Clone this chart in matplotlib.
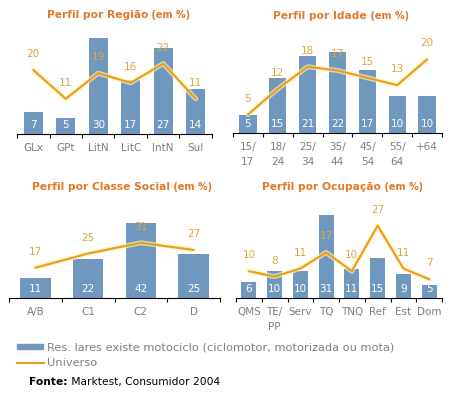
import matplotlib
matplotlib.use('Agg')
import matplotlib.pyplot as plt
import matplotlib.patheffects as pe
from matplotlib.patches import Rectangle

# dados
regiao_cat = ['GLx', 'GPt', 'LitN', 'LitC', 'IntN', 'Sul']
regiao_res = [7, 5, 30, 17, 27, 14]
regiao_uni = [20, 11, 19, 16, 22, 11]

idade_cat = ['15/\n17', '18/\n24', '25/\n34', '35/\n44', '45/\n54', '55/\n64', '+64']
idade_res = [5, 15, 21, 22, 17, 10, 10]
idade_uni = [5, 12, 18, 17, 15, 13, 20]

classe_cat = ['A/B', 'C1', 'C2', 'D']
classe_res = [11, 22, 42, 25]
classe_uni = [17, 25, 31, 27]

ocup_cat = ['QMS', 'TE/\nPP', 'Serv', 'TQ', 'TNQ', 'Ref', 'Est', 'Dom']
ocup_res = [6, 10, 10, 31, 11, 15, 9, 5]
ocup_uni = [10, 8, 11, 17, 10, 27, 11, 7]

BAR = '#7097be'
LINE = '#e89c22'
LBL = '#e3a440'
TITLE = '#e2782a'
GRAY = '#7f7f7f'

W, H = 453, 394
fig = plt.figure(figsize=(W / 100, H / 100), dpi=100)
plt.rcParams['font.family'] = 'DejaVu Sans'


def painel(cat, res, uni, left, right, base, top, scale):
    ax = fig.add_axes([left / W, 1 - base / H, (right - left) / W, (base - top) / H])
    n = len(cat)
    x = list(range(n))
    ax.bar(x, res, width=0.58, color=BAR, zorder=1)
    ax.plot(x, uni, color=LINE, lw=1.5, zorder=2, solid_capstyle='round',
            path_effects=[pe.Stroke(linewidth=3.6, foreground='#fff2b0', alpha=0.7), pe.Normal()])
    for i in x:
        ax.annotate(str(res[i]), (i, 0), xytext=(0, 3), textcoords='offset points',
                    ha='center', va='bottom', color='white', fontsize=7.5)
        ax.annotate(str(uni[i]), (i, uni[i]), xytext=(0, 11.5), textcoords='offset points',
                    ha='center', va='center', color=LBL, fontsize=7.5)
    ax.set_xlim(-0.5, n - 0.5)
    ax.set_ylim(0, (base - top) / scale)
    for s in ['top', 'right', 'left']:
        ax.spines[s].set_visible(False)
    ax.spines['bottom'].set_linewidth(0.8)
    ax.set_yticks([])
    ax.set_xticks(x)
    ax.set_xticklabels(cat, color=GRAY, fontsize=7.5, linespacing=1.65)
    ax.tick_params(axis='x', which='major', length=0, pad=6.5)
    ax.set_xticks([i - 0.5 for i in range(n + 1)], minor=True)
    ax.tick_params(axis='x', which='minor', length=3, width=0.8, direction='out')
    ax.patch.set_alpha(0)
    return ax


painel(regiao_cat, regiao_res, regiao_uni, 17, 212, 134, 28, 3.2)
painel(idade_cat, idade_res, idade_uni, 233, 442, 133, 28, 3.68)
painel(classe_cat, classe_res, classe_uni, 9, 220, 298, 198, 1.78)
painel(ocup_cat, ocup_res, ocup_uni, 236, 442, 298, 198, 2.68)

# camada de texto em pixels
ov = fig.add_axes([0, 0, 1, 1])
ov.set_xlim(0, W)
ov.set_ylim(H, 0)
ov.axis('off')
ov.patch.set_alpha(0)


def titulo(txt, x, y):
    t = ov.text(x, y, txt, color=TITLE, fontsize=7.7, fontweight='bold', ha='left', va='center')
    ov.annotate(' (em %)', xy=(1, 0.5), xycoords=t, ha='left', va='center',
                color=TITLE, fontsize=7, fontweight='bold')


titulo('Perfil por Região', 47, 15)
titulo('Perfil por Idade', 273, 16)
titulo('Perfil por Classe Social', 32, 187)
titulo('Perfil por Ocupação', 262, 187)

# legenda
ov.add_patch(Rectangle((17, 344), 26, 5, color=BAR))
ov.plot([17, 44], [363, 363], color=LINE, lw=1.5)
ov.text(47, 347, 'Res. lares existe motociclo (ciclomotor, motorizada ou mota)',
        color=GRAY, fontsize=8.2, va='center', ha='left')
ov.text(47, 363, 'Universo', color=GRAY, fontsize=8.2, va='center', ha='left')
f = ov.text(29, 382, 'Fonte:', color='black', fontsize=7.7, fontweight='bold', va='center', ha='left')
ov.annotate(' Marktest, Consumidor 2004', xy=(1, 0.5), xycoords=f, ha='left', va='center',
            color='black', fontsize=7.7)

fig.savefig('out.png', dpi=100)
